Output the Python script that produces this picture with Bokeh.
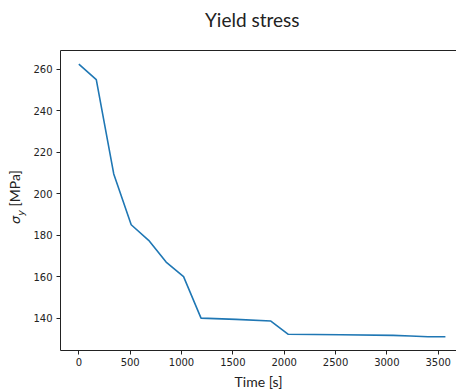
from bokeh.plotting import figure
from bokeh.models import Range1d, FixedTicker, LinearAxis, Div
from bokeh.layouts import row, column
from bokeh.embed import file_html
from bokeh.resources import INLINE

# Yield stress over time
time_s = [0, 170, 340, 510, 680, 850, 1020, 1190, 1530, 1870, 2040, 2550, 3060, 3230, 3400, 3570]
sigma_y = [262.4, 255.0, 209.5, 185.0, 177.5, 167.0, 160.0, 140.0, 139.4, 138.6, 132.2, 132.0, 131.7, 131.4, 131.0, 131.0]

x_ticks = [0, 500, 1000, 1500, 2000, 2500, 3000, 3500]
y_ticks = [140, 160, 180, 200, 220, 240, 260]

x_range = Range1d(-178.5, 3678)
y_range = Range1d(124.4, 269.0)

W, H = 456, 392
TITLE_H = 30
LABEL_W = 30
PLOT_H = H - TITLE_H

p = figure(width=W - LABEL_W, height=PLOT_H, x_range=x_range, y_range=y_range,
           output_backend="svg", toolbar_location=None,
           min_border_left=60 - LABEL_W, min_border_right=0,
           min_border_top=50 - TITLE_H, min_border_bottom=41, margin=0)
p.outline_line_color = None
p.grid.visible = False
p.background_fill_color = "white"
p.border_fill_color = "white"

p.line(time_s, sigma_y, line_color="#1f77b4", line_width=1.6)

for ax, ticks in ((p.xaxis[0], x_ticks), (p.yaxis[0], y_ticks)):
    ax.ticker = FixedTicker(ticks=ticks)
    ax.minor_tick_line_color = None
    ax.major_tick_in = 0
    ax.major_tick_out = 4
    ax.axis_line_color = "#222222"
    ax.major_tick_line_color = "#222222"
    ax.major_label_text_font = "DejaVu Sans"
    ax.major_label_text_font_size = "10px"
    ax.major_label_text_color = "#222222"
p.xaxis.major_label_standoff = 3
p.yaxis.major_label_standoff = 4

# x axis label
p.xaxis.axis_label = "Time [s]"
p.xaxis.axis_label_text_font = "Lato"
p.xaxis.axis_label_text_font_style = "normal"
p.xaxis.axis_label_text_font_size = "14px"
p.xaxis.axis_label_text_color = "#222222"
p.xaxis.axis_label_standoff = 4

# top spine
top = LinearAxis(major_tick_line_color=None, minor_tick_line_color=None,
                 major_label_text_font_size="0px", axis_line_color="#222222",
                 ticker=FixedTicker(ticks=[]))
p.add_layout(top, "above")

# title
title = Div(width=W, height=TITLE_H, margin=0, text=(
    f'<div style="position:relative;width:{W}px;height:{TITLE_H}px;">'
    '<div style="position:absolute;left:205px;top:10px;white-space:nowrap;'
    'font-family:Lato;font-size:19px;line-height:19px;color:#222222;">'
    'Yield stress</div></div>'))

# y axis label: italic sigma with subscript y, then the unit
ylabel = Div(width=LABEL_W, height=PLOT_H, margin=0, text=(
    f'<div style="position:relative;width:{LABEL_W}px;height:{PLOT_H}px;overflow:visible;">'
    '<div style="position:absolute;left:7px;top:194px;transform:rotate(-90deg);'
    'transform-origin:0 0;white-space:nowrap;font-family:Lato;font-size:14px;'
    'line-height:16px;color:#222222;">'
    '<span style="font-family:\'DejaVu Sans\';font-style:italic;font-size:13px;">σ</span>'
    '<sub style="font-family:\'DejaVu Sans\';font-style:italic;font-size:9.5px;">y</sub>'
    '&nbsp;[MPa]</div></div>'))

layout = column(title, row(ylabel, p, spacing=0, margin=0), spacing=0, margin=0)

open("out.html", "w").write(file_html(layout, INLINE))
